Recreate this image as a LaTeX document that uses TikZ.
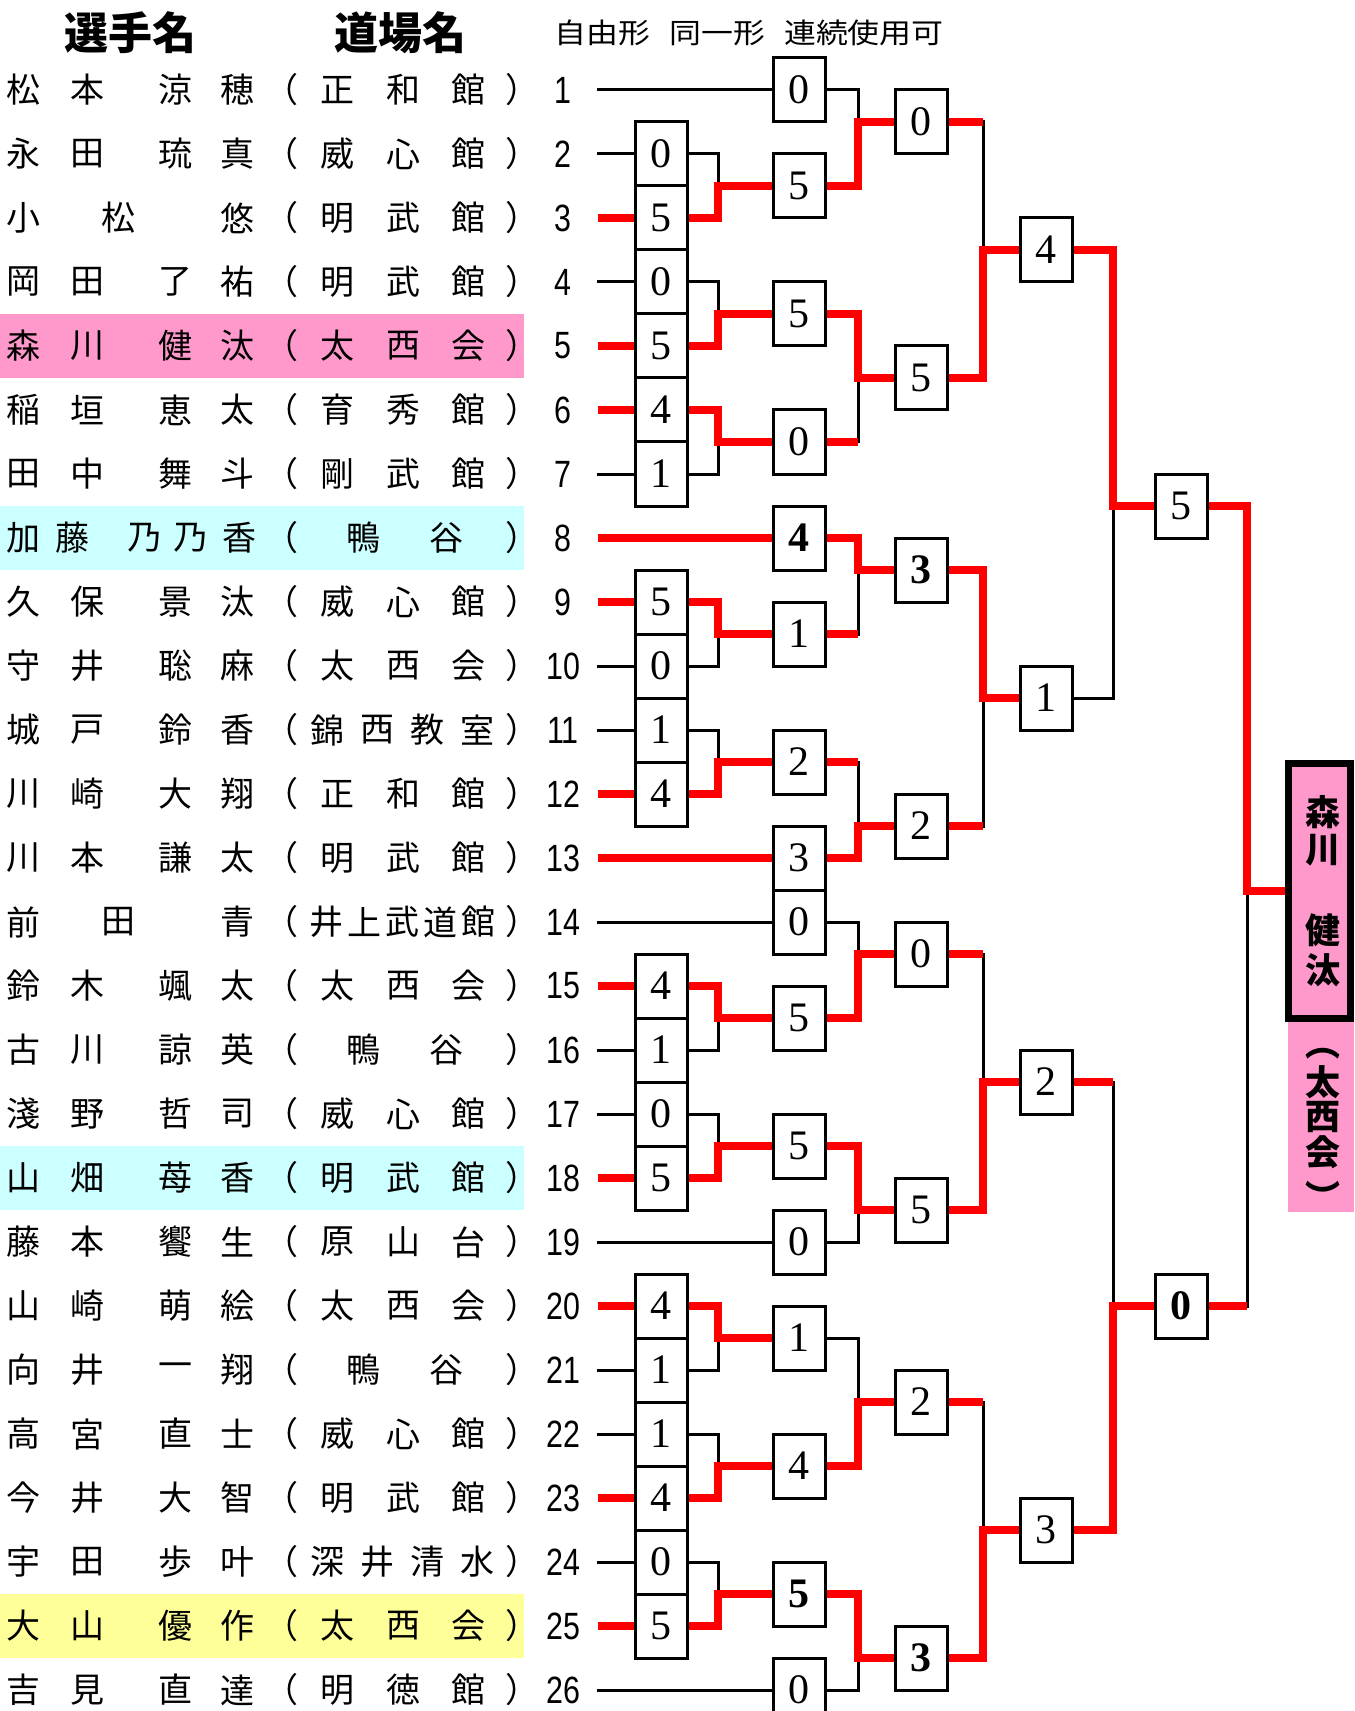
\documentclass[tikz,border=0pt]{standalone}
\usepackage{fontspec}
\newfontfamily\jp{Noto Sans CJK JP}
\newfontfamily\nums{Liberation Sans}
\newfontfamily\cifre{Liberation Serif}
\usetikzlibrary{calc}
\definecolor{rosa}{RGB}{255,153,204}
\definecolor{celeste}{RGB}{204,255,255}
\definecolor{giallo}{RGB}{255,255,153}
\newcommand{\incontro}[5]{%
  \draw[perso] (#2.east -| #4) -- (#3.west -| #4);
  \draw[#5] (#2.east) -- (#2.east -| #4);
  \draw[vinto] (#1.east) -- (#1.east -| #4) |- (#3.west);
}
\begin{document}
\begin{tikzpicture}[x=0.5pt, y=-0.5pt,
    nome/.style={font=\jp\fontsize{17}{17}\selectfont, inner sep=0pt},
    seme/.style={font=\nums\fontsize{19}{19}\selectfont, inner sep=0pt},
    vinc/.style={font=\jp\bfseries\fontsize{17.5}{17.5}\selectfont, inner sep=0pt},
    punti/.style={draw, line width=1.5pt, fill=white, minimum width=26pt,
      minimum height=32pt, inner sep=0pt, font=\cifre\fontsize{21}{21}\selectfont},
    vinto/.style={red, line width=4pt},
    perso/.style={black, line width=1.5pt, line cap=rect}]
  \useasboundingbox (0,0) rectangle (1354,1711);

  % Evidenziazioni
  \fill[rosa] (0,314) rectangle (524,378);
  \fill[celeste] (0,506) rectangle (524,570);
  \fill[celeste] (0,1146) rectangle (524,1210);
  \fill[giallo] (0,1594) rectangle (524,1658);

  % Intestazione
  \node[font=\jp\bfseries\fontsize{22}{22}\selectfont] (tit1) at (130,33) {選手名};
  \node[font=\jp\bfseries\fontsize{22}{22}\selectfont] (tit2) at (400,33) {道場名};
  \node[font=\jp\fontsize{14}{14}\selectfont] (tit3) at (749,33)
    {\scalebox{1.14}[1]{自由形\hspace{0.6em}同一形\hspace{0.6em}連続使用可}};

  % Parentesi, numeri e inizio linee
  \foreach \r in {1,...,26} {
    \pgfmathtruncatemacro\yy{26+64*\r}
    \node[nome] (pa\r) at (281,\yy) {（};
    \node[nome] (pc\r) at (522,\yy) {）};
    \node[seme] (s\r) at (563,\yy) {\scalebox{0.8}[1]{\r}};
    \coordinate (p\r) at (598,\yy);
  }

  % Nomi
  \foreach \r/\a/\b/\c/\d in {1/松/本/涼/穂, 2/永/田/琉/真, 4/岡/田/了/祐,
      5/森/川/健/汰, 6/稲/垣/恵/太, 7/田/中/舞/斗, 9/久/保/景/汰, 10/守/井/聡/麻,
      11/城/戸/鈴/香, 12/川/崎/大/翔, 13/川/本/謙/太, 15/鈴/木/颯/太,
      16/古/川/諒/英, 17/淺/野/哲/司, 18/山/畑/苺/香, 19/藤/本/饗/生,
      20/山/崎/萌/絵, 21/向/井/一/翔, 22/高/宮/直/士, 23/今/井/大/智,
      24/宇/田/歩/叶, 25/大/山/優/作, 26/吉/見/直/達} {
    \pgfmathtruncatemacro\yy{26+64*\r}
    \node[nome] (n\r-1) at (23,\yy) {\a};
    \node[nome] (n\r-2) at (87,\yy) {\b};
    \node[nome] (n\r-3) at (175,\yy) {\c};
    \node[nome] (n\r-4) at (237,\yy) {\d};
  }
  \node[nome] (n3-1) at (23,218) {小};
  \node[nome] (n3-2) at (118,218) {松};
  \node[nome] (n3-4) at (237,218) {悠};
  \node[nome] (n8-1) at (23,538) {加};
  \node[nome] (n8-2) at (72,538) {藤};
  \node[nome] (n8-3) at (144,538) {乃};
  \node[nome] (n8-4) at (190,538) {乃};
  \node[nome] (n8-5) at (239,538) {香};
  \node[nome] (n14-1) at (23,922) {前};
  \node[nome] (n14-2) at (118,922) {田};
  \node[nome] (n14-4) at (237,922) {青};

  % Dojo
  \foreach \r/\a/\b/\c in {1/正/和/館, 2/威/心/館, 3/明/武/館, 4/明/武/館,
      5/太/西/会, 6/育/秀/館, 7/剛/武/館, 9/威/心/館, 10/太/西/会, 12/正/和/館,
      13/明/武/館, 15/太/西/会, 17/威/心/館, 18/明/武/館, 19/原/山/台,
      20/太/西/会, 22/威/心/館, 23/明/武/館, 25/太/西/会, 26/明/徳/館} {
    \pgfmathtruncatemacro\yy{26+64*\r}
    \node[nome] (d\r-1) at (337,\yy) {\a};
    \node[nome] (d\r-2) at (403,\yy) {\b};
    \node[nome] (d\r-3) at (468,\yy) {\c};
  }
  \foreach \r in {8,16,21} {
    \pgfmathtruncatemacro\yy{26+64*\r}
    \node[nome] (d\r-1) at (363,\yy) {鴨};
    \node[nome] (d\r-2) at (446,\yy) {谷};
  }
  \foreach \r/\a/\b/\c/\d in {11/錦/西/教/室, 24/深/井/清/水} {
    \pgfmathtruncatemacro\yy{26+64*\r}
    \node[nome] (d\r-1) at (327,\yy) {\a};
    \node[nome] (d\r-2) at (377,\yy) {\b};
    \node[nome] (d\r-3) at (427,\yy) {\c};
    \node[nome] (d\r-4) at (477,\yy) {\d};
  }
  \foreach \c [count=\i] in {井,上,武,道,館}
    \node[nome] (d14-\i) at ({288+38*\i},922) {\c};

  % Punteggi
  \foreach \r/\v in {2/0, 3/5, 4/0, 5/5, 6/4, 7/1, 9/5, 10/0, 11/1, 12/4,
      15/4, 16/1, 17/0, 18/5, 20/4, 21/1, 22/1, 23/4, 24/0, 25/5}
    \node[punti] (a\r) at (661,{26+64*\r}) {\v};
  \foreach \h/\v in {0/0, 3/5, 7/5, 11/0, 14/\textbf{4}, 17/1, 21/2, 24/3, 26/0,
      29/5, 33/5, 36/0, 39/1, 43/4, 47/\textbf{5}, 50/0}
    \node[punti] (b\h) at (799,{90+32*\h}) {\v};
  \foreach \h/\v in {1/0, 9/5, 15/\textbf{3}, 23/2, 27/0, 35/5, 41/2, 49/\textbf{3}}
    \node[punti] (c\h) at (921,{90+32*\h}) {\v};
  \foreach \h/\v in {5/4, 19/1, 31/2, 45/3}
    \node[punti] (d\h) at (1046,{90+32*\h}) {\v};
  \foreach \h/\v in {13/5, 38/\textbf{0}}
    \node[punti] (e\h) at (1181,{90+32*\h}) {\v};

  % Vincitore
  \node[draw, line width=3.5pt, fill=rosa, minimum width=31pt, minimum height=127.5pt,
    inner sep=0pt] (w) at (1319.5,891) {};
  \fill[rosa] (1288,1022) rectangle (1354,1212);
  \foreach \c/\yy [count=\i] in {森/812, 川/850, 健/930, 汰/970}
    \node[vinc] (w\i) at (1323,\yy) {\c};
  \foreach \c/\yy [count=\i] in {︵/1054, 太/1082, 西/1117, 会/1152, ︶/1196}
    \node[vinc] (wd\i) at (1323,\yy) {\c};

  % Colonne del tabellone
  \coordinate (X1) at (718,0);
  \coordinate (X2) at (858,0);
  \coordinate (X3) at (983,0);
  \coordinate (X4) at (1113,0);
  \coordinate (X5) at (1247,0);

  % Linee dei giocatori
  \foreach \r in {2,4,7,10,11,16,17,21,22,24}
    \draw[perso] (p\r) -- (a\r.west);
  \foreach \r in {3,5,6,9,12,15,18,20,23,25}
    \draw[vinto] (p\r) -- (a\r.west);
  \draw[perso] (p1) -- (b0.west);
  \draw[vinto] (p8) -- (b14.west);
  \draw[vinto] (p13) -- (b24.west);
  \draw[perso] (p14) -- (b26.west);
  \draw[perso] (p19) -- (b36.west);
  \draw[perso] (p26) -- (b50.west);

  % Primo turno
  \incontro{a3}{a2}{b3}{X1}{perso}
  \incontro{a5}{a4}{b7}{X1}{perso}
  \incontro{a6}{a7}{b11}{X1}{perso}
  \incontro{a9}{a10}{b17}{X1}{perso}
  \incontro{a12}{a11}{b21}{X1}{perso}
  \incontro{a15}{a16}{b29}{X1}{perso}
  \incontro{a18}{a17}{b33}{X1}{perso}
  \incontro{a20}{a21}{b39}{X1}{perso}
  \incontro{a23}{a22}{b43}{X1}{perso}
  \incontro{a25}{a24}{b47}{X1}{perso}

  % Secondo turno
  \incontro{b3}{b0}{c1}{X2}{perso}
  \incontro{b7}{b11}{c9}{X2}{vinto}
  \incontro{b14}{b17}{c15}{X2}{vinto}
  \incontro{b24}{b21}{c23}{X2}{vinto}
  \incontro{b29}{b26}{c27}{X2}{perso}
  \incontro{b33}{b36}{c35}{X2}{perso}
  \incontro{b43}{b39}{c41}{X2}{perso}
  \incontro{b47}{b50}{c49}{X2}{perso}

  % Quarti, semifinali e finale
  \incontro{c9}{c1}{d5}{X3}{vinto}
  \incontro{c15}{c23}{d19}{X3}{vinto}
  \incontro{c35}{c27}{d31}{X3}{vinto}
  \incontro{c49}{c41}{d45}{X3}{vinto}
  \incontro{d5}{d19}{e13}{X4}{perso}
  \incontro{d45}{d31}{e38}{X4}{vinto}
  \incontro{e13}{e38}{w}{X5}{vinto}
\end{tikzpicture}
\end{document}
